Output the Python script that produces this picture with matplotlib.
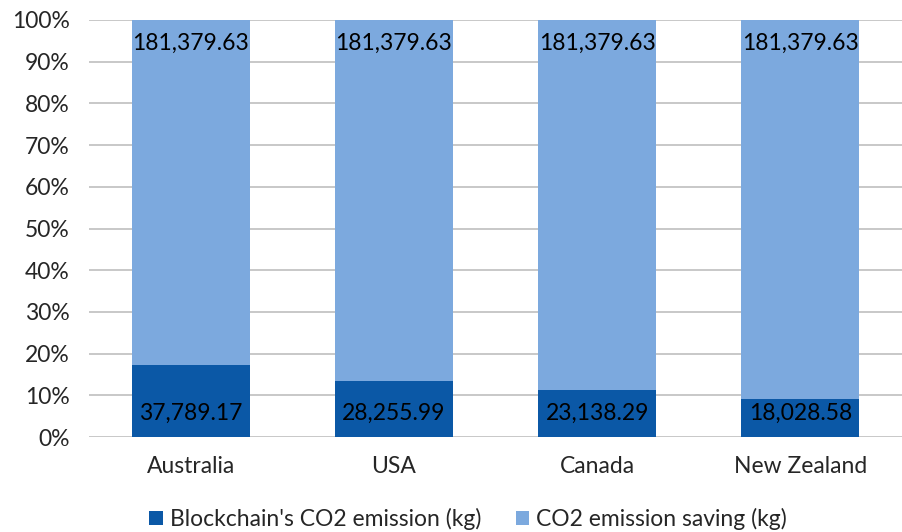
import matplotlib
matplotlib.use("Agg")
import matplotlib.pyplot as plt
import numpy as np
from matplotlib.ticker import FuncFormatter

categories = ["Australia", "USA", "Canada", "New Zealand"]
emission = [37789.17, 28255.99, 23138.29, 18028.58]
saving = [181379.63, 181379.63, 181379.63, 181379.63]
series_names = ["Blockchain's CO2 emission (kg)", "CO2 emission saving (kg)"]
yticks = [0, 10, 20, 30, 40, 50, 60, 70, 80, 90, 100]

dark = "#0B58A6"
light = "#7CA9DE"

plt.rcParams['font.family'] = ['Lato', 'DejaVu Sans']
FS = 16.5

fig = plt.figure(figsize=(9.02, 5.32), dpi=100)
ax = fig.add_axes([89/902, 1-437/532, 813/902, 417/532])

emission = np.array(emission)
saving = np.array(saving)
total = emission + saving
pe = emission / total * 100
ps = saving / total * 100
x = np.arange(len(categories))
w = 0.58

ax.bar(x, pe, width=w, color=dark, label=series_names[0], zorder=3)
ax.bar(x, ps, width=w, bottom=pe, color=light, label=series_names[1], zorder=3)

for i in range(len(x)):
    ax.annotate(f"{emission[i]:,.2f}", (x[i], 0), xytext=(0, 17), textcoords="offset points",
                ha="center", va="center", fontsize=FS, color="black", zorder=4)
    ax.annotate(f"{saving[i]:,.2f}", (x[i], 100), xytext=(0, -17), textcoords="offset points",
                ha="center", va="center", fontsize=FS, color="black", zorder=4)

ax.set_xlim(-0.5, 3.5)
ax.set_ylim(0, 100)
ax.set_yticks(yticks)
ax.yaxis.set_major_formatter(FuncFormatter(lambda v, p: f"{v:.0f}%"))
ax.set_xticks(x)
ax.set_xticklabels(categories)
ax.tick_params(axis='both', length=0, labelsize=FS, colors="#262626")
ax.tick_params(axis='x', pad=14)
ax.tick_params(axis='y', pad=14)
for s in ax.spines.values():
    s.set_visible(False)
ax.grid(axis='y', color="#BFBFBF", linewidth=1.2, zorder=0)
ax.set_axisbelow(True)

leg = fig.legend(loc="center", bbox_to_anchor=(0.519, 1-519/532), ncol=2, frameon=False,
                 fontsize=FS, handlelength=0.6, handleheight=0.6, handletextpad=0.3,
                 columnspacing=1.5, borderaxespad=0, borderpad=0)
for t in leg.get_texts():
    t.set_color("#262626")

fig.savefig("out.png", dpi=100)
